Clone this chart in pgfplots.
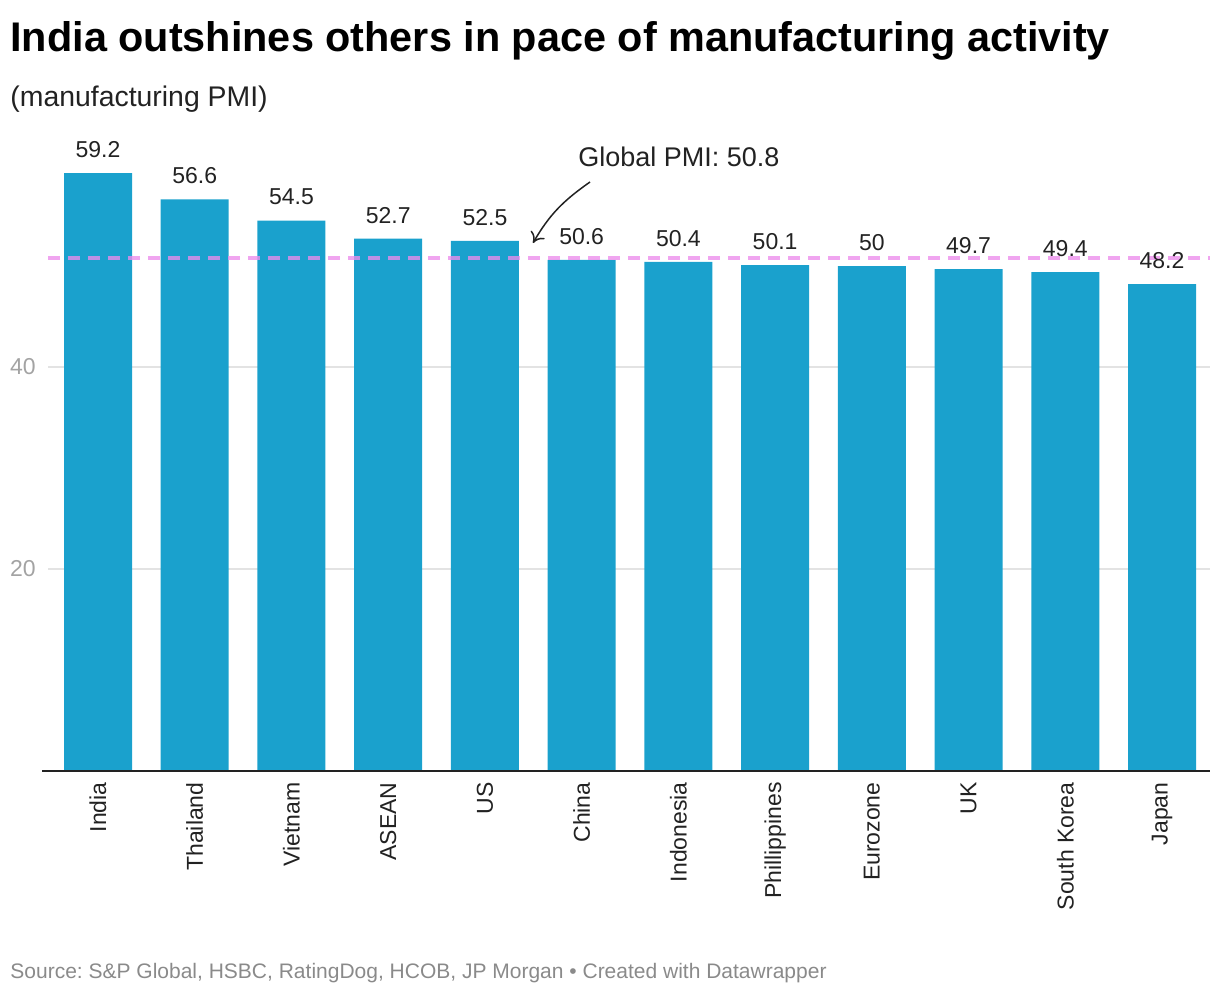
\documentclass[border=0pt]{standalone}
\usepackage{fontspec}
\setmainfont{Liberation Sans}
\usepackage{pgfplots}
\pgfplotsset{compat=1.18}
\usetikzlibrary{arrows.meta}

\definecolor{barblue}{HTML}{1AA1CD}
\definecolor{textdark}{HTML}{222222}
\definecolor{tickgray}{HTML}{A3A3A3}
\definecolor{gridgray}{HTML}{E3E3E3}
\definecolor{srcgray}{HTML}{8A8A8A}
\definecolor{pmipink}{HTML}{EC8CEC}

\begin{document}
\frenchspacing
\begin{tikzpicture}[x=1pt,y=1pt]
\path[use as bounding box] (0,0) rectangle (610,-498);

% title block
\node[anchor=base west, inner sep=0, font=\fontsize{20.7}{24}\selectfont\bfseries]
  at (5,-25.5) {India outshines others in pace of manufacturing activity};
\node[anchor=base west, inner sep=0, text=textdark, font=\fontsize{14.2}{17}\selectfont]
  at (5,-53) {(manufacturing PMI)};

\begin{axis}[
    at={(24pt,-385.5pt)}, anchor=south west,
    scale only axis, width=581pt, height=303pt,
    xmin=-0.517, xmax=11.496, ymin=0, ymax=60,
    clip=false,
    axis line style={draw=none},
    major tick length=0pt,
    ytick={20,40},
    ymajorgrids,
    grid style={gridgray, line width=0.7pt},
    /pgf/number format/assume math mode=true,
    yticklabel style={text=tickgray, font=\fontsize{11.5}{13}\selectfont,
        anchor=east, inner sep=0pt, xshift=-6pt},
    xtick=data,
    xticklabels={India,Thailand,Vietnam,ASEAN,US,China,Indonesia,Phillippines,Eurozone,UK,South Korea,Japan},
    xticklabel style={rotate=90, anchor=east, inner ysep=0pt, inner xsep=5.5pt,
        text=textdark, font=\fontsize{11.5}{13}\selectfont},
]
\addplot[ybar, bar width=34pt, fill=barblue, draw=none,
    nodes near coords,
    every node near coord/.append style={anchor=south, inner sep=0pt, yshift=7.5pt,
        text=textdark, font=\fontsize{11.5}{13}\selectfont}]
coordinates {
(0,59.2) (1,56.6) (2,54.5) (3,52.7) (4,52.5) (5,50.6)
(6,50.4) (7,50.1) (8,50) (9,49.7) (10,49.4) (11,48.2)
};

% global PMI reference line
\draw[pmipink, opacity=0.78, line width=2pt, dash pattern=on 6pt off 4pt]
  (axis cs:-0.517,50.8) -- (axis cs:11.496,50.8);

% baseline
\draw[textdark, line width=1pt] ([xshift=-3pt]axis cs:-0.517,0) -- (axis cs:11.496,0);
\end{axis}

% annotation
\node[anchor=base west, inner sep=0, text=textdark, font=\fontsize{13.5}{16}\selectfont]
  at (289,-83) {Global PMI: 50.8};
\draw[textdark, line width=0.75pt, -{To[length=5pt,width=8pt]}]
  (295,-91) to[out=215, in=60] (266.5,-121.5);

% source
\node[anchor=base west, inner sep=0, text=srcgray, font=\fontsize{10.5}{12}\selectfont]
  at (5,-489) {Source: S\&P Global, HSBC, RatingDog, HCOB, JP Morgan • Created with Datawrapper};
\end{tikzpicture}
\end{document}
